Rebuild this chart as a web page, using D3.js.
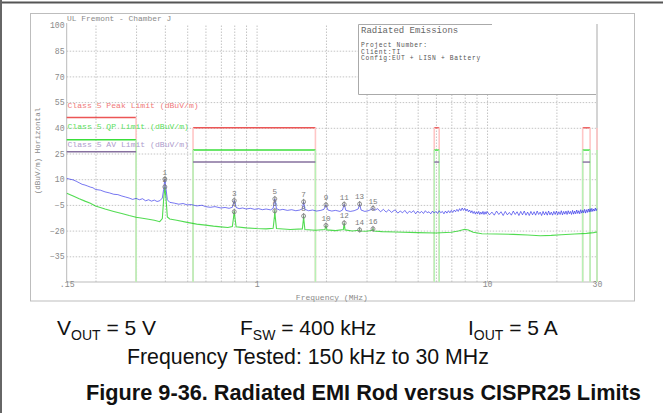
<!DOCTYPE html>
<html><head><meta charset="utf-8">
<script src="https://cdn.jsdelivr.net/npm/d3@7"></script>
<style>
html,body{margin:0;padding:0;background:#fff;}
svg{display:block;}
</style></head><body>
<svg id="c" width="663" height="413"></svg>
<script>
// ---------- data ----------
const yTicks = [100, 85, 70, 55, 40, 25, 10, -5, -20, -35];
const xTickValues = [0.15, 1, 10, 30];
const xTickLabels = [".15", "1", "10", "30"];
const xGrid = [0.2,0.3,0.4,0.5,0.6,0.7,0.8,0.9,1,2,3,4,5,6,7,8,9,10,20];

const bandStart = [0.15, 0.53, 5.9, 26, 30];
const bandEnd   = [0.30, 1.8, 6.2, 28, 54];
const peakLimit = [46, 40, 40, 40, 40];
const qpLimit   = [33, 27, 27, 27, 27];
const avLimit   = [26, 20, 20, 20, 20];
const legendLabels = ["Class 5 Peak Limit (dBuV/m)", "Class 5 QP Limit (dBuV/m)", "Class 5 AV Limit (dBuV/m)"];

// Peak-detector trace (blue)
const blueFreq = [0.150,0.155,0.160,0.165,0.170,0.175,0.180,0.185,0.190,0.195,0.200,0.210,0.220,0.230,0.240,0.250,0.260,0.270,0.280,0.290,0.300,0.310,0.320,0.330,0.340,0.350,0.360,0.370,0.380,0.390,0.395,0.400,0.405,0.410,0.420,0.440,0.460,0.480,0.500,0.520,0.550,0.580,0.600,0.630,0.660,0.700,0.730,0.760,0.785,0.800,0.815,0.840,0.870,0.900,0.940,0.980,1.02,1.06,1.10,1.15,1.18,1.20,1.22,1.26,1.30,1.36,1.42,1.48,1.54,1.58,1.60,1.62,1.68,1.75,1.82,1.90,1.96,2.00,2.04,2.12,2.20,2.30,2.36,2.40,2.44,2.55,2.65,2.76,2.80,2.84,2.95,3.05,3.15,3.20,3.25,3.35,3.45,3.55,3.65,3.75,3.85,3.95,
4.0,4.1,4.2,4.3,4.4,4.5,4.6,4.7,4.8,4.9,5.0,5.1,5.2,5.3,5.4,5.5,5.6,5.7,5.8,5.9,6.0,6.1,6.2,6.3,6.4,6.5,6.6,6.7,6.8,6.9,7.0,7.1,7.2,7.3,7.4,7.5,7.6,7.7,7.8,7.9,8.0,8.1,8.2,8.3,8.4,8.5,8.6,8.7,8.8,8.9,9.0,9.1,9.2,9.3,9.4,9.5,9.6,9.7,9.8,9.9,
10.00,10.25,10.50,10.75,11.00,11.25,11.50,11.75,12.00,12.25,12.50,12.75,13.00,13.25,13.50,13.75,14.00,14.25,14.50,14.75,15.00,15.25,15.50,15.75,16.00,16.25,16.50,16.75,17.00,17.25,17.50,17.75,18.00,18.25,18.50,18.75,19.00,19.25,19.50,19.75,20.00,20.25,20.50,20.75,21.00,21.25,21.50,21.75,22.00,22.25,22.50,22.75,23.00,23.25,23.50,23.75,24.00,24.25,24.50,24.75,25.00,25.25,25.50,25.75,26.00,26.25,26.50,26.75,27.00,27.25,27.50,27.75,28.00,28.25,28.50,28.75,29.00,29.25,29.50,29.75,30.00];
const blueVal = [10.5,10.0,9.6,8.8,7.9,7.0,6.6,6.0,5.4,5.0,4.0,3.6,2.6,2.0,1.2,1.0,0.2,-0.4,-1.0,-1.8,-1.2,-2.0,-1.4,-2.6,-2.0,-2.8,-2.2,-3.0,-2.6,-1.0,4.0,10.0,4.0,-2.0,-3.5,-4.0,-4.6,-4.2,-5.0,-4.8,-5.6,-5.2,-6.0,-6.4,-6.0,-6.8,-6.5,-7.0,-6.4,-2.5,-6.5,-7.2,-6.8,-7.4,-7.0,-7.6,-7.2,-7.8,-7.4,-7.9,-7.0,-1.5,-7.2,-8.0,-7.6,-8.2,-7.8,-8.4,-8.0,-7.2,-3.2,-7.6,-8.4,-8.0,-8.6,-8.2,-7.6,-5.0,-8.0,-8.6,-8.2,-8.8,-8.0,-4.7,-8.2,-8.8,-8.4,-7.4,-4.5,-8.0,-8.8,-8.4,-7.6,-7.0,-8.2,-7.2,-9.0,-7.6,-9.2,-7.8,-9.4,-8.2,
-8.0,-9.8,-8.6,-9.6,-8.2,-10.0,-8.8,-9.4,-8.4,-10.2,-8.6,-9.8,-8.8,-10.0,-8.4,-9.6,-9.0,-10.2,-8.6,-9.8,-8.8,-10.0,-8.4,-9.6,-8.8,-10.2,-8.6,-9.8,-8.4,-9.6,-8.2,-9.4,-8.0,-9.0,-7.6,-8.8,-7.2,-8.4,-6.8,-8.2,-7.0,-8.6,-7.4,-9.0,-8.0,-9.6,-8.4,-10.0,-8.8,-10.4,-9.0,-10.2,-8.8,-10.6,-9.2,-10.4,-8.8,-10.6,-9.0,-10.4,
-8.8,-10.8,-9.2,-11.0,-8.6,-10.6,-9.0,-11.2,-8.8,-10.8,-9.4,-11.0,-8.6,-10.6,-9.0,-11.2,-8.8,-10.8,-8.6,-11.0,-9.2,-11.2,-8.8,-10.8,-9.0,-11.0,-8.6,-10.6,-9.2,-11.2,-8.8,-10.8,-9.0,-11.0,-8.6,-10.8,-9.2,-11.0,-8.8,-10.6,-8.6,-10.8,-9.0,-10.6,-8.4,-10.8,-8.8,-10.4,-8.6,-10.6,-8.4,-10.2,-8.8,-10.6,-8.2,-10.4,-8.6,-10.2,-8.0,-10.0,-8.4,-10.2,-7.8,-9.8,-8.2,-9.6,-7.6,-9.8,-7.8,-9.4,-7.4,-9.2,-7.2,-9.0,-7.0,-8.8,-7.4,-8.6,-6.8,-8.4,-7.2];

// Average / QP trace (green)
const greenFreq = [0.150,0.160,0.170,0.180,0.190,0.200,0.220,0.240,0.260,0.280,0.300,0.320,0.340,0.360,0.380,0.390,0.395,0.400,0.405,0.410,0.420,0.450,0.500,0.550,0.600,0.650,0.700,0.750,0.785,0.795,0.800,0.805,0.815,0.900,1.000,1.100,1.180,1.195,1.200,1.205,1.220,1.400,1.580,1.595,1.600,1.605,1.620,1.800,1.980,2.000,2.020,2.200,2.380,2.400,2.420,2.600,2.780,2.800,2.820,3.000,3.180,3.200,3.220,3.500,4.000,5.000,6.000,7.000,7.500,8.000,8.300,8.700,9.500,11.00,13.00,15.00,17.00,19.00,21.00,24.00,27.00,29.00,30.00];
const greenVal = [1.8,0.2,-1.4,-2.8,-4.0,-5.6,-7.4,-8.8,-10.0,-11.2,-12.2,-12.8,-13.4,-14.0,-14.8,-13.0,-2.0,5.5,-2.0,-12.0,-13.2,-14.0,-15.2,-16.2,-16.8,-17.4,-17.8,-18.2,-17.6,-12.0,-8.5,-12.0,-17.8,-18.4,-18.8,-19.0,-18.6,-12.0,-8.2,-12.0,-18.8,-19.4,-19.0,-14.0,-11.3,-14.0,-19.4,-19.8,-19.4,-17.0,-19.6,-20.0,-19.4,-15.6,-19.6,-20.2,-19.8,-19.6,-20.2,-20.4,-19.8,-19.0,-20.2,-20.6,-20.8,-21.2,-21.4,-21.0,-20.2,-19.2,-19.6,-21.0,-21.8,-22.0,-22.2,-22.6,-23.0,-22.8,-22.4,-22.0,-21.6,-21.2,-20.8];

// Markers
const markerNum  = [1,2,3,4,5,6,7,8,9,10,11,12,13,14,15,16];
const markerFreq = [0.4,0.4,0.8,0.8,1.2,1.2,1.6,1.6,2.0,2.0,2.4,2.4,2.8,2.8,3.2,3.2];
const markerVal  = [10.0,5.5,-2.5,-9.0,-1.5,-8.5,-3.2,-11.5,-5.0,-17.0,-4.7,-15.6,-4.5,-19.6,-7.0,-19.0];

const infoLines = ["Project Number:", "Client:TI", "Config:EUT + LISN + Battery"];

// ---------- drawing ----------
const svg = d3.select("#c");
const W = 663, H = 413;
const L = 66.7, R = 597, T = 25, B = 282;
const x = d3.scaleLog().domain([0.15, 30]).range([L, R]);
const y = d3.scaleLinear().domain([-50, 100]).range([B, T]);
const mono = "'Liberation Mono', 'DejaVu Sans Mono', monospace";

// outer frames
svg.append("rect").attr("x",0).attr("y",0).attr("width",W).attr("height",H).attr("fill","#fff");
svg.append("line").attr("x1",0).attr("x2",W).attr("y1",2.5).attr("y2",2.5).attr("stroke","#555").attr("stroke-width",2);
svg.append("line").attr("x1",1).attr("x2",1).attr("y1",0).attr("y2",H).attr("stroke","#666").attr("stroke-width",2);
svg.append("rect").attr("x",30.5).attr("y",13.5).attr("width",604).attr("height",287.5)
  .attr("fill","none").attr("stroke","#bdbdbd").attr("stroke-width",1);

// grid
const grid = svg.append("g");
grid.append("g").attr("transform",`translate(0,${B})`)
  .call(d3.axisBottom(x).tickValues(xGrid).tickSize(-(B-T)).tickFormat(""))
  .call(g=>g.select(".domain").remove())
  .call(g=>g.selectAll("line").attr("stroke","#c4c4c4").attr("stroke-dasharray","1.5,1.5"));
grid.append("g").attr("transform",`translate(${L},0)`)
  .call(d3.axisLeft(y).tickValues(yTicks.filter(v=>v<100)).tickSize(-(R-L)).tickFormat(""))
  .call(g=>g.select(".domain").remove())
  .call(g=>g.selectAll("line").attr("stroke","#c4c4c4").attr("stroke-dasharray","1.5,1.5"));

// axes lines
svg.append("line").attr("x1",L).attr("x2",L).attr("y1",T-2).attr("y2",B).attr("stroke","#bbb");
svg.append("line").attr("x1",L).attr("x2",R).attr("y1",B).attr("y2",B).attr("stroke","#bbb");
svg.append("line").attr("x1",R).attr("x2",R).attr("y1",T).attr("y2",B).attr("stroke","#d4d4d4").attr("stroke-width",2);

// axis labels
const yAx = svg.append("g").attr("transform",`translate(${L-2},0)`)
  .call(d3.axisLeft(y).tickValues(yTicks).tickSize(0).tickPadding(0));
yAx.select(".domain").remove();
yAx.selectAll("text").attr("font-family",mono).attr("font-size",8.2).attr("fill","#8a8a8a");

const xAx = svg.append("g").attr("transform",`translate(0,${B})`)
  .call(d3.axisBottom(x).tickValues(xTickValues).tickSize(0).tickPadding(0)
    .tickFormat((d,i)=>xTickLabels[i]));
xAx.select(".domain").remove();
xAx.selectAll("text").attr("font-family",mono).attr("font-size",8.2).attr("fill","#8a8a8a")
  .attr("dy","0.55em");

svg.append("text").attr("x",67).attr("y",19).attr("dominant-baseline","middle")
  .attr("font-family",mono).attr("font-size",7.9).attr("fill","#8a8a8a").text("UL Fremont - Chamber J");
svg.append("text").attr("transform","translate(38,151) rotate(-90)").attr("text-anchor","middle")
  .attr("dominant-baseline","middle").attr("font-family",mono).attr("font-size",7.6).attr("fill","#8a8a8a")
  .text("(dBuV/m) Horizontal");
svg.append("text").attr("x",(L+R)/2).attr("y",297.5).attr("text-anchor","middle").attr("dominant-baseline","middle")
  .attr("font-family",mono).attr("font-size",8).attr("fill","#8a8a8a").text("Frequency (MHz)");

// limits
const lim = svg.append("g");
const xMax = 30;
function drawLimit(levels, hColor, vColor, hW){
  bandStart.forEach((s,i)=>{
    const e = Math.min(bandEnd[i], xMax);
    if (e > s) {
      lim.append("line").attr("x1",x(s)).attr("x2",x(e)).attr("y1",y(levels[i])).attr("y2",y(levels[i]))
        .attr("stroke",hColor).attr("stroke-width",hW);
    }
    [bandStart[i], bandEnd[i]].forEach(f=>{
      if (f > 0.15 && f <= xMax) {
        lim.append("line").attr("x1",x(f)).attr("x2",x(f)).attr("y1",y(levels[i])).attr("y2",B)
          .attr("stroke",vColor).attr("stroke-width",1.6);
      }
    });
  });
}
drawLimit(peakLimit, "#ec5656", "#ffc6c6", 1.4);
drawLimit(qpLimit, "#3ade3a", "#b6f2b6", 1.4);
avLimit.forEach((v,i)=>{
  const e = Math.min(bandEnd[i], xMax);
  if (e > bandStart[i]) lim.append("line").attr("x1",x(bandStart[i])).attr("x2",x(e)).attr("y1",y(v)).attr("y2",y(v))
    .attr("stroke","#86709e").attr("stroke-width",1.4);
});

// legend texts
const legendColors = ["#f07a7a", "#5ce05c", "#ae9ccc"];
const legendY = [106, 127, 145];
legendLabels.forEach((t,i)=>{
  svg.append("text").attr("x",67.5).attr("y",legendY[i]).attr("dominant-baseline","middle")
    .attr("font-family",mono).attr("font-size",8.1).attr("fill",legendColors[i]).text(t);
});

// traces
const clip = svg.append("clipPath").attr("id","pc").append("rect")
  .attr("x",L).attr("y",T).attr("width",R-L+1).attr("height",B-T);
const line = d3.line().x(d=>x(d[0])).y(d=>y(d[1]));
svg.append("path").datum(greenFreq.map((f,i)=>[f,greenVal[i]])).attr("clip-path","url(#pc)")
  .attr("d",line).attr("fill","none").attr("stroke","#18d018").attr("stroke-opacity",0.75).attr("stroke-width",1.1);
svg.append("path").datum(blueFreq.map((f,i)=>[f,blueVal[i]])).attr("clip-path","url(#pc)")
  .attr("d",line).attr("fill","none").attr("stroke","#1c1ce8").attr("stroke-opacity",0.6).attr("stroke-width",1);

// markers
const mk = svg.append("g");
markerNum.forEach((n,i)=>{
  const mx = x(markerFreq[i]), my = y(markerVal[i]);
  mk.append("circle").attr("cx",mx).attr("cy",my).attr("r",2).attr("fill","none").attr("stroke","#7a7a7a").attr("stroke-width",0.8);
  mk.append("line").attr("x1",mx).attr("x2",mx).attr("y1",my-3).attr("y2",my+2.5).attr("stroke","#7a7a7a").attr("stroke-width",0.8);
  mk.append("text").attr("x",mx).attr("y",my-6.6).attr("text-anchor","middle").attr("dominant-baseline","middle")
    .attr("font-family",mono).attr("font-size",7.6).attr("fill","#7a7a7a").text(n);
});

// info box
svg.append("rect").attr("x",358.5).attr("y",24.5).attr("width",R-358.5).attr("height",70)
  .attr("fill","#fff").attr("stroke","none");
svg.append("line").attr("x1",358.5).attr("x2",358.5).attr("y1",24.5).attr("y2",94.5).attr("stroke","#aaa");
svg.append("line").attr("x1",358.5).attr("x2",492).attr("y1",24.5).attr("y2",24.5).attr("stroke","#aaa");
svg.append("line").attr("x1",358.5).attr("x2",R).attr("y1",94.5).attr("y2",94.5).attr("stroke","#aaa");
svg.append("line").attr("x1",R).attr("x2",R).attr("y1",24).attr("y2",y(40)).attr("stroke","#d4d4d4").attr("stroke-width",2);
svg.append("text").attr("x",361).attr("y",31).attr("dominant-baseline","middle")
  .attr("font-family",mono).attr("font-size",9).attr("fill","#666").text("Radiated Emissions");
const infoY = [45.5, 52, 58.5];
infoLines.forEach((t,i)=>{
  svg.append("text").attr("x",361).attr("y",infoY[i]).attr("dominant-baseline","middle")
    .attr("font-family",mono).attr("font-size",6.3).attr("letter-spacing",0.66).attr("fill","#555").text(t);
});

// caption
const sans = "'Liberation Sans', Arial, sans-serif";
function cond(xp, main, sub, rest){
  const t = svg.append("text").attr("x",xp).attr("y",335).attr("font-family",sans).attr("font-size",21).attr("fill","#111");
  t.append("tspan").text(main);
  t.append("tspan").attr("font-size",14).attr("dy",4.5).text(sub);
  t.append("tspan").attr("dy",-4.5).text(rest);
}
cond(57, "V", "OUT", " = 5 V");
cond(240, "F", "SW", " = 400 kHz");
cond(468, "I", "OUT", " = 5 A");
function fitText(t, target){
  const w = t.node().getComputedTextLength();
  const fs = +t.attr("font-size");
  t.attr("font-size", fs*target/w);
}
const ft = svg.append("text").attr("x",127).attr("y",364).attr("font-family",sans).attr("font-size",20).attr("fill","#111")
  .text("Frequency Tested: 150 kHz to 30 MHz");
fitText(ft, 362);
const cap = svg.append("text").attr("x",86).attr("y",400).attr("font-family",sans).attr("font-weight","bold")
  .attr("font-size",19).attr("fill","#111").text("Figure 9-36. Radiated EMI Rod versus CISPR25 Limits");
fitText(cap, 555);
</script>
</body></html>
